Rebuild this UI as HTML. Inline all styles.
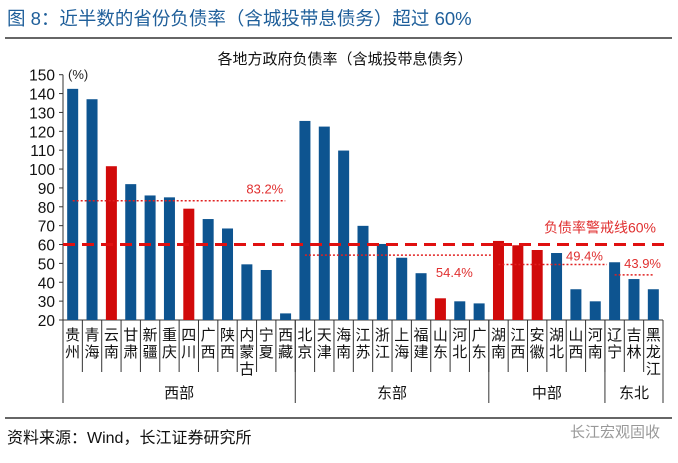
<!DOCTYPE html>
<html><head><meta charset="utf-8">
<style>
body{margin:0;background:#fff;}
svg text{font-family:"Liberation Sans","Noto Sans CJK SC",sans-serif;}
</style></head>
<body>
<svg id="chart" width="678" height="458" viewBox="0 0 678 458" xmlns="http://www.w3.org/2000/svg">
<text x="7" y="25" font-size="18.5" fill="#1f5f9a">图 8：近半数的省份负债率（含城投带息债务）超过 60%</text>
<line x1="5" y1="38" x2="672" y2="38" stroke="#333" stroke-width="1.5"/>
<text x="345" y="64" font-size="15" fill="#111" text-anchor="middle">各地方政府负债率（含城投带息债务）</text>
<text x="68" y="79" font-size="13" fill="#222">(%)</text>
<g id="axes"></g>
<g id="bars"></g>
<g id="refs"></g>
<g id="cats"></g>
<line x1="5" y1="418" x2="672" y2="418" stroke="#333" stroke-width="1.5"/>
<text x="7" y="443" font-size="16" fill="#111">资料来源：Wind，长江证券研究所</text>
<text x="660" y="437" font-size="15" fill="#999" text-anchor="end">长江宏观固收</text>
</svg>
<script>
const categories=["贵州","青海","云南","甘肃","新疆","重庆","四川","广西","陕西","内蒙古","宁夏","西藏","北京","天津","海南","江苏","浙江","上海","福建","山东","河北","广东","湖南","江西","安徽","湖北","山西","河南","辽宁","吉林","黑龙江"];
const values=[142.5,137,101.5,92,86,85,79,73.5,68.5,49.5,46.5,23.5,125.5,122.5,109.8,69.9,60.3,53,44.8,31.5,29.9,28.8,61.9,59.6,57.1,55.5,36.3,29.9,50.6,41.7,36.3];
const highlighted=["云南","四川","山东","湖南","江西","安徽"];
const groups=["西部","东部","中部","东北"];
const groupCounts=[12,10,6,3];
const groupAverages=[83.2,54.4,49.4,43.9];
const yTicks=[20,30,40,50,60,70,80,90,100,110,120,130,140,150];
const warningLevel=60;

const NS="http://www.w3.org/2000/svg";
const X0=63,X1=663,Y0=320,Y1=74.7,YMIN=20,YMAX=150;
const step=(X1-X0)/categories.length;
const y=v=>Y0-(v-YMIN)/(YMAX-YMIN)*(Y0-Y1);
const xc=i=>X0+step*(i+0.5);
function mk(tag,attrs,parent,text){const e=document.createElementNS(NS,tag);for(const k in attrs)e.setAttribute(k,attrs[k]);if(text!=null)e.textContent=text;document.getElementById(parent).appendChild(e);return e;}

let e=mk('line',{x1:X0,y1:Y1,x2:X0,y2:403,stroke:'#333','stroke-width':1},'axes');


yTicks.forEach(t=>{
  let l=mk('line',{x1:X0-4,y1:y(t),x2:X0,y2:y(t),stroke:'#333'},'axes');
  
  
  let tx=mk('text',{x:X0-8,y:y(t)+6,'font-size':15.5,'text-anchor':'end',fill:'#111'},'axes',t);
  
  
});
e=mk('line',{x1:X0,y1:Y0,x2:X1,y2:Y0,stroke:'#333'},'axes');



categories.forEach((c,i)=>{
  const b=mk('rect',{x:xc(i)-5.5,y:y(values[i]),width:11,height:Y0-y(values[i]),fill:highlighted.includes(c)?'#d10a0a':'#0d5490'},'bars');
  
  
  const chars=[...c];
  chars.forEach((ch,k)=>{
    const t=mk('text',{x:xc(i),y:340+k*17,'font-size':15,'text-anchor':'middle',fill:'#111'},'cats',ch);
    
    
  });
  if(i>0){
    const s=mk('line',{x1:X0+step*i,y1:Y0,x2:X0+step*i,y2:372,stroke:'#333'},'cats');
    
    
  }
});

let start=0;
groups.forEach((g,gi)=>{
  const end=start+groupCounts[gi];
  const xa=X0+step*start,xb=X0+step*end;
  const s=mk('line',{x1:xb,y1:Y0,x2:xb,y2:403,stroke:'#333'},'cats');
  
  
  const t=mk('text',{x:(xa+xb)/2,y:398,'font-size':15,'text-anchor':'middle',fill:'#111'},'cats',g);
  
  
  const ya=y(groupAverages[gi]);
  const l=mk('line',{x1:xc(start),y1:ya,x2:xb-(gi==0?10:gi==3?10:-2),y2:ya,stroke:'#e02020','stroke-width':1.5,'stroke-dasharray':'2,2'},'refs');
  
  
  let lx,ly;
  if(gi==0){lx=xb-12;ly=ya-7;}else if(gi==1){lx=xb-16;ly=ya+22;}else if(gi==2){lx=xb-2;ly=ya-4;}else{lx=xb-2;ly=ya-7;}
  const lt=mk('text',{x:lx,y:ly,'font-size':13,'text-anchor':'end',fill:'#e03030'},'refs',groupAverages[gi].toFixed(1)+'%');
  
  
  start=end;
});

const wy=y(warningLevel);
e=mk('line',{x1:X0,y1:wy,x2:668,y2:wy,stroke:'#e01010','stroke-width':3,'stroke-dasharray':'12,7'},'refs');


e=mk('text',{x:656,y:wy-12,'font-size':14,'text-anchor':'end',fill:'#e03030'},'refs','负债率警戒线'+warningLevel+'%');


</script>
</body></html>
